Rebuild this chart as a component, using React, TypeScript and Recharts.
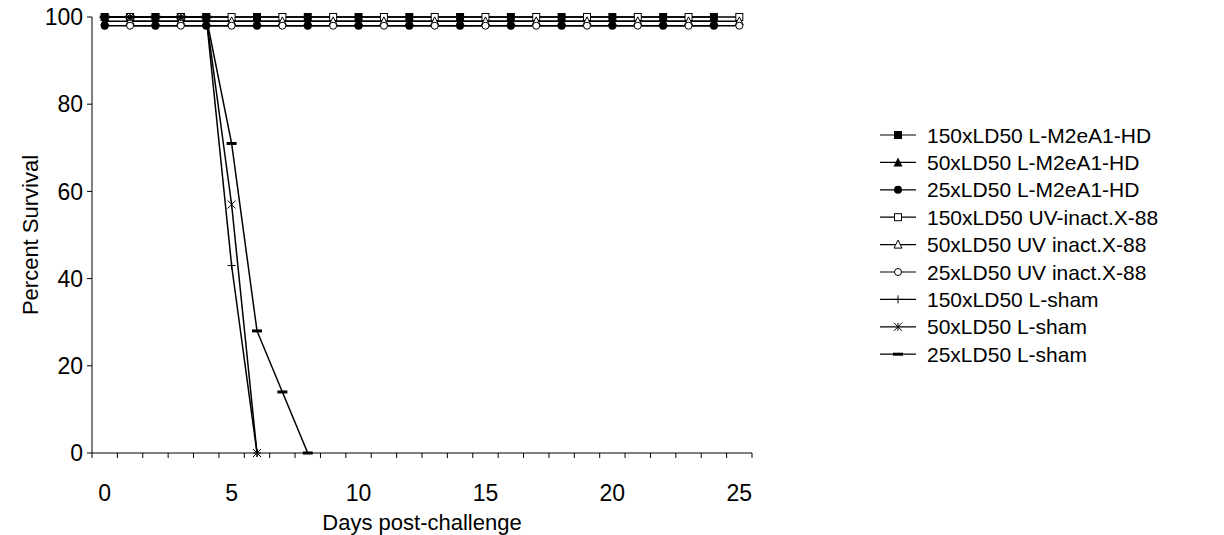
import React from 'react';
import { LineChart, Line, XAxis, YAxis } from 'recharts';

const FONT = '"Liberation Sans", Arial, Helvetica, sans-serif';

const DAYS = [0, 1, 2, 3, 4, 5, 6, 7, 8, 9, 10, 11, 12, 13, 14, 15, 16, 17, 18, 19, 20, 21, 22, 23, 24, 25];

const HD150 = [100, null, 100, null, 100, null, 100, null, 100, null, 100, null, 100, null, 100, null, 100, null, 100, null, 100, null, 100, null, 100, null];
const HD50 = [99, null, 99, null, 99, null, 99, null, 99, null, 99, null, 99, null, 99, null, 99, null, 99, null, 99, null, 99, null, 99, null];
const HD25 = [98, null, 98, null, 98, null, 98, null, 98, null, 98, null, 98, null, 98, null, 98, null, 98, null, 98, null, 98, null, 98, null];
const UV150 = [null, 100, null, 100, null, 100, null, 100, null, 100, null, 100, null, 100, null, 100, null, 100, null, 100, null, 100, null, 100, null, 100];
const UV50 = [null, 99, null, 99, null, 99, null, 99, null, 99, null, 99, null, 99, null, 99, null, 99, null, 99, null, 99, null, 99, null, 99];
const UV25 = [null, 98, null, 98, null, 98, null, 98, null, 98, null, 98, null, 98, null, 98, null, 98, null, 98, null, 98, null, 98, null, 98];
const SHAM150 = [100, 100, 100, 100, 100, 43, 0, null, null, null, null, null, null, null, null, null, null, null, null, null, null, null, null, null, null, null];
const SHAM50 = [100, 100, 100, 100, 100, 57, 0, null, null, null, null, null, null, null, null, null, null, null, null, null, null, null, null, null, null, null];
const SHAM25 = [100, 100, 100, 100, 100, 71, 28, 14, 0, null, null, null, null, null, null, null, null, null, null, null, null, null, null, null, null, null];

const X_LABEL_TICKS = [0, 5, 10, 15, 20, 25];
const Y_TICKS = [0, 20, 40, 60, 80, 100];

type Shape = 'sqF' | 'triF' | 'cirF' | 'sqO' | 'triO' | 'cirO' | 'plus' | 'star' | 'dash';

const SERIES: { key: string; name: string; values: (number | null)[]; shape: Shape }[] = [
  { key: 'hd150', name: '150xLD50 L-M2eA1-HD', values: HD150, shape: 'sqF' },
  { key: 'hd50', name: '50xLD50 L-M2eA1-HD', values: HD50, shape: 'triF' },
  { key: 'hd25', name: '25xLD50 L-M2eA1-HD', values: HD25, shape: 'cirF' },
  { key: 'uv150', name: '150xLD50 UV-inact.X-88', values: UV150, shape: 'sqO' },
  { key: 'uv50', name: '50xLD50 UV inact.X-88', values: UV50, shape: 'triO' },
  { key: 'uv25', name: '25xLD50 UV inact.X-88', values: UV25, shape: 'cirO' },
  { key: 'sh150', name: '150xLD50 L-sham', values: SHAM150, shape: 'plus' },
  { key: 'sh50', name: '50xLD50 L-sham', values: SHAM50, shape: 'star' },
  { key: 'sh25', name: '25xLD50 L-sham', values: SHAM25, shape: 'dash' },
];

const data = DAYS.map((d, i) => {
  const row: Record<string, number | null> = { day: d };
  SERIES.forEach((s) => {
    row[s.key] = s.values[i];
  });
  return row;
});

const MINOR_TICKS = [...DAYS.map((d) => d - 0.5), 25.5];
const ALL_X_TICKS = [...MINOR_TICKS, ...X_LABEL_TICKS].sort((a, b) => a - b);

function Marker({ shape, cx, cy }: { shape: Shape; cx: number; cy: number }) {
  const s = 4;
  switch (shape) {
    case 'sqF':
      return <rect x={cx - s} y={cy - s} width={2 * s} height={2 * s} fill="#000" />;
    case 'triF':
      return <polygon points={`${cx},${cy - s - 1} ${cx + s + 0.5},${cy + s} ${cx - s - 0.5},${cy + s}`} fill="#000" />;
    case 'cirF':
      return <circle cx={cx} cy={cy} r={s} fill="#000" />;
    case 'sqO':
      return <rect x={cx - s + 0.5} y={cy - s + 0.5} width={2 * s - 1} height={2 * s - 1} fill="#fff" stroke="#000" strokeWidth={1} />;
    case 'triO':
      return <polygon points={`${cx},${cy - s - 0.5} ${cx + s},${cy + s - 0.5} ${cx - s},${cy + s - 0.5}`} fill="#fff" stroke="#000" strokeWidth={1} />;
    case 'cirO':
      return <circle cx={cx} cy={cy} r={s - 0.5} fill="#fff" stroke="#000" strokeWidth={1} />;
    case 'plus':
      return (
        <g stroke="#000" strokeWidth={1}>
          <line x1={cx - s} x2={cx + s} y1={cy} y2={cy} />
          <line x1={cx} x2={cx} y1={cy - s} y2={cy + s} />
        </g>
      );
    case 'star':
      return (
        <g stroke="#000" strokeWidth={1}>
          <line x1={cx - s} x2={cx + s} y1={cy - s} y2={cy + s} />
          <line x1={cx - s} x2={cx + s} y1={cy + s} y2={cy - s} />
          <line x1={cx} x2={cx} y1={cy - s} y2={cy + s} />
        </g>
      );
    case 'dash':
      return <rect x={cx - 5} y={cy - 1.5} width={10} height={3} fill="#000" />;
  }
  return null;
}

const makeDot = (shape: Shape, key: string) => (props: any) => {
  const { cx, cy, index, value } = props;
  if (cx == null || cy == null || value == null || Number.isNaN(cx) || Number.isNaN(cy)) {
    return <g key={`${key}-${index}`} />;
  }
  return (
    <g key={`${key}-${index}`}>
      <Marker shape={shape} cx={cx} cy={cy} />
    </g>
  );
};

const XTick = (props: any) => {
  const { x, y, payload } = props;
  const v = payload.value;
  const isLabel = Number.isInteger(v) && v % 5 === 0;
  if (isLabel) {
    return (
      <text x={x} y={y + 40} textAnchor="middle" dominantBaseline="central" fontSize={23} fontFamily={FONT} fill="#000">
        {v}
      </text>
    );
  }
  return <line x1={x} x2={x} y1={y} y2={y + 5} stroke="#000" strokeWidth={1} />;
};

export default function App() {
  return (
    <div style={{ position: 'absolute', left: 0, top: 0, width: 1224, height: 535, background: '#fff' }}>
      <LineChart width={1224} height={535} data={data} margin={{ top: 17, right: 472, bottom: 0, left: 0 }}>
        <XAxis
          dataKey="day"
          type="number"
          domain={[-0.5, 25.5]}
          ticks={ALL_X_TICKS}
          interval={0}
          height={82}
          tickSize={0}
          tickMargin={0}
          tickLine={false}
          axisLine={{ stroke: '#000', strokeWidth: 1 }}
          tick={<XTick />}
          label={{
            content: (p: any) => {
              const vb = p.viewBox;
              return (
                <text x={vb.x + vb.width / 2} y={522} textAnchor="middle" dominantBaseline="central" fontSize={22} fontFamily={FONT} fill="#000">
                  Days post-challenge
                </text>
              );
            },
          }}
        />
        <YAxis
          type="number"
          domain={[0, 100]}
          ticks={Y_TICKS}
          interval={0}
          width={92}
          tickSize={5}
          tickMargin={4}
          axisLine={{ stroke: '#000', strokeWidth: 1 }}
          tickLine={{ stroke: '#000', strokeWidth: 1 }}
          tick={{ fill: '#000', fontSize: 23, fontFamily: FONT }}
          label={{
            content: (p: any) => {
              const vb = p.viewBox;
              const cy = vb.y + vb.height / 2;
              return (
                <text x={30} y={cy} transform={`rotate(-90 30 ${cy})`} textAnchor="middle" dominantBaseline="central" fontSize={22} fontFamily={FONT} fill="#000">
                  Percent Survival
                </text>
              );
            },
          }}
        />
        {SERIES.map((s) => (
          <Line
            key={s.key}
            dataKey={s.key}
            name={s.name}
            type="linear"
            stroke="#000"
            strokeWidth={1.5}
            connectNulls
            isAnimationActive={false}
            dot={makeDot(s.shape, s.key)}
            activeDot={false}
          />
        ))}
      </LineChart>
      <svg width={1224} height={535} style={{ position: 'absolute', left: 0, top: 0, pointerEvents: 'none' }}>
        {SERIES.map((s, i) => {
          const cy = 135 + i * 27.4;
          return (
            <g key={s.key}>
              <line x1={880} x2={916} y1={cy} y2={cy} stroke="#000" strokeWidth={1.2} />
              <Marker shape={s.shape} cx={898} cy={cy} />
              <text x={927} y={cy} dominantBaseline="central" fontSize={21} fontFamily={FONT} fill="#000">
                {s.name}
              </text>
            </g>
          );
        })}
      </svg>
    </div>
  );
}
